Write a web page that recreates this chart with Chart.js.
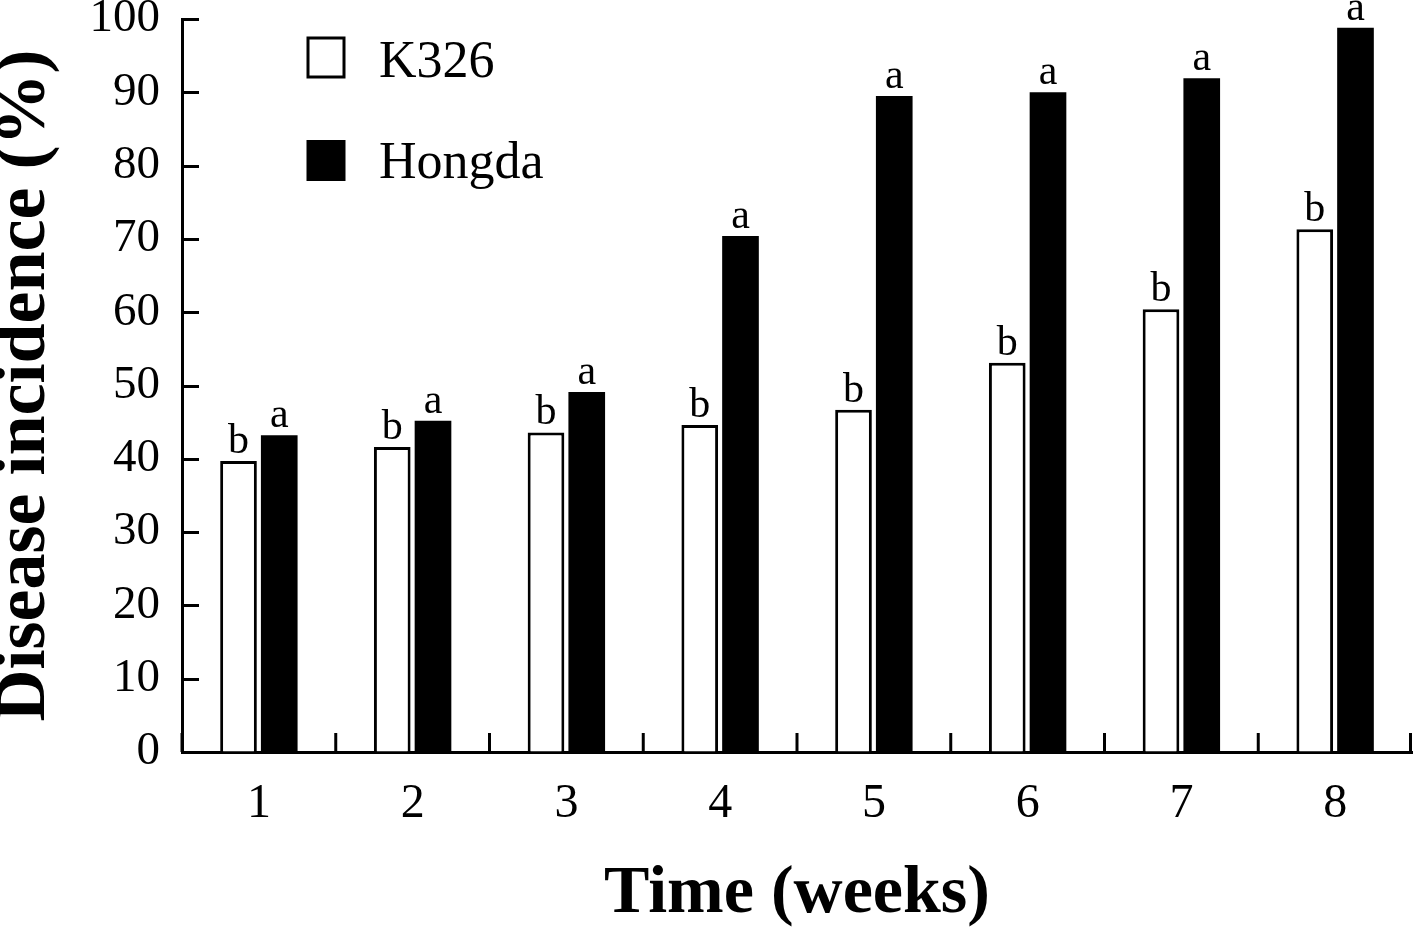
<!DOCTYPE html>
<html>
<head>
<meta charset="utf-8">
<script src="https://cdn.jsdelivr.net/npm/chart.js@4"></script>
<style>
  html, body { margin: 0; padding: 0; background: #fff; }
</style>
</head>
<body>
<canvas id="grafico" width="1416" height="932"></canvas>
<script>
const semanas = ['1', '2', '3', '4', '5', '6', '7', '8'];
const k326 = [39.7, 41.6, 43.6, 44.6, 46.7, 53.1, 60.4, 71.3];
const hongda = [43.2, 45.2, 49.1, 70.4, 89.5, 90.0, 91.9, 98.8];
const letrasK326 = ['b', 'b', 'b', 'b', 'b', 'b', 'b', 'b'];
const letrasHongda = ['a', 'a', 'a', 'a', 'a', 'a', 'a', 'a'];
const yTicks = [0, 10, 20, 30, 40, 50, 60, 70, 80, 90, 100];

const serif = "'Liberation Serif', 'Times New Roman', serif";

// marcas dos eixos para dentro, letras e legenda
const extras = {
    id: 'extras',
    afterDatasetsDraw(chart) {
        const ctx = chart.ctx;
        const x = chart.scales.x;
        const y = chart.scales.y;
        const area = chart.chartArea;
        ctx.save();
        ctx.strokeStyle = '#000';
        ctx.lineWidth = 3;
        // y ticks
        yTicks.forEach(v => {
            const py = Math.round(y.getPixelForValue(v)) + 0.5;
            ctx.beginPath();
            ctx.moveTo(area.left, py);
            ctx.lineTo(area.left + 17, py);
            ctx.stroke();
        });
        // x ticks nas divisas das categorias
        for (let i = 0; i <= semanas.length; i++) {
            let px;
            if (i === 0) px = x.left;
            else if (i === semanas.length) px = x.right - 1.5;
            else px = (x.getPixelForValue(i - 1) + x.getPixelForValue(i)) / 2;
            ctx.beginPath();
            ctx.moveTo(px, area.bottom);
            ctx.lineTo(px, area.bottom - 19);
            ctx.stroke();
        }

        // letras sobre as barras
        ctx.fillStyle = '#000';
        ctx.font = '42px ' + serif;
        ctx.textAlign = 'center';
        ctx.textBaseline = 'alphabetic';
        [letrasK326, letrasHongda].forEach((letras, d) => {
            chart.getDatasetMeta(d).data.forEach((bar, i) => {
                ctx.fillText(letras[i], bar.x, bar.y - 8);
            });
        });

        // legenda
        const lx = area.left + 126;
        ctx.lineWidth = 3;
        ctx.fillStyle = '#fff';
        ctx.fillRect(lx, 38, 36, 39);
        ctx.strokeRect(lx, 38, 36, 39);
        ctx.fillStyle = '#000';
        ctx.fillRect(lx - 1.5, 140, 39, 41);
        ctx.font = '52px ' + serif;
        ctx.textAlign = 'left';
        ctx.textBaseline = 'alphabetic';
        ctx.fillText('K326', lx + 71, 77);
        ctx.fillText('Hongda', lx + 71, 178);
        ctx.restore();
    }
};

new Chart(document.getElementById('grafico'), {
    type: 'bar',
    data: {
        labels: semanas,
        datasets: [{
            label: 'K326',
            data: k326,
            backgroundColor: '#fff',
            borderColor: '#000',
            borderWidth: 3,
            categoryPercentage: 0.53,
            barPercentage: 0.9
        }, {
            label: 'Hongda',
            data: hongda,
            backgroundColor: '#000',
            borderWidth: 0,
            categoryPercentage: 0.53,
            barPercentage: 0.9
        }]
    },
    options: {
        responsive: false,
        devicePixelRatio: 1,
        animation: false,
        layout: {
            padding: { left: 0, right: 4, top: 19, bottom: 0 }
        },
        plugins: {
            legend: { display: false },
            tooltip: { enabled: false }
        },
        scales: {
            x: {
                offset: true,
                grid: { drawOnChartArea: false, drawTicks: false },
                border: { color: '#000', width: 3 },
                ticks: {
                    color: '#000',
                    font: { family: serif, size: 48 },
                    padding: 24
                },
                title: {
                    display: true,
                    text: 'Time (weeks)',
                    color: '#000',
                    font: { family: serif, size: 68, weight: 'bold', lineHeight: 1.1 },
                    padding: 0
                },
                afterFit(scale) {
                    scale.height = 180;
                    scale.paddingLeft = 0;
                    scale.paddingRight = 0;
                }
            },
            y: {
                min: 0,
                max: 100,
                grid: { drawOnChartArea: false, drawTicks: false },
                border: { color: '#000', width: 3 },
                ticks: {
                    stepSize: 10,
                    color: '#000',
                    font: { family: serif, size: 47 },
                    padding: 22
                },
                title: {
                    display: true,
                    text: 'Disease incidence (%)',
                    color: '#000',
                    font: { family: serif, size: 72, weight: 'bold', lineHeight: 0.7 },
                    padding: 0
                },
                afterFit(scale) {
                    scale.width = 182;
                    scale.paddingTop = 0;
                    scale.paddingBottom = 0;
                }
            }
        }
    },
    plugins: [extras]
});
</script>
</body>
</html>
